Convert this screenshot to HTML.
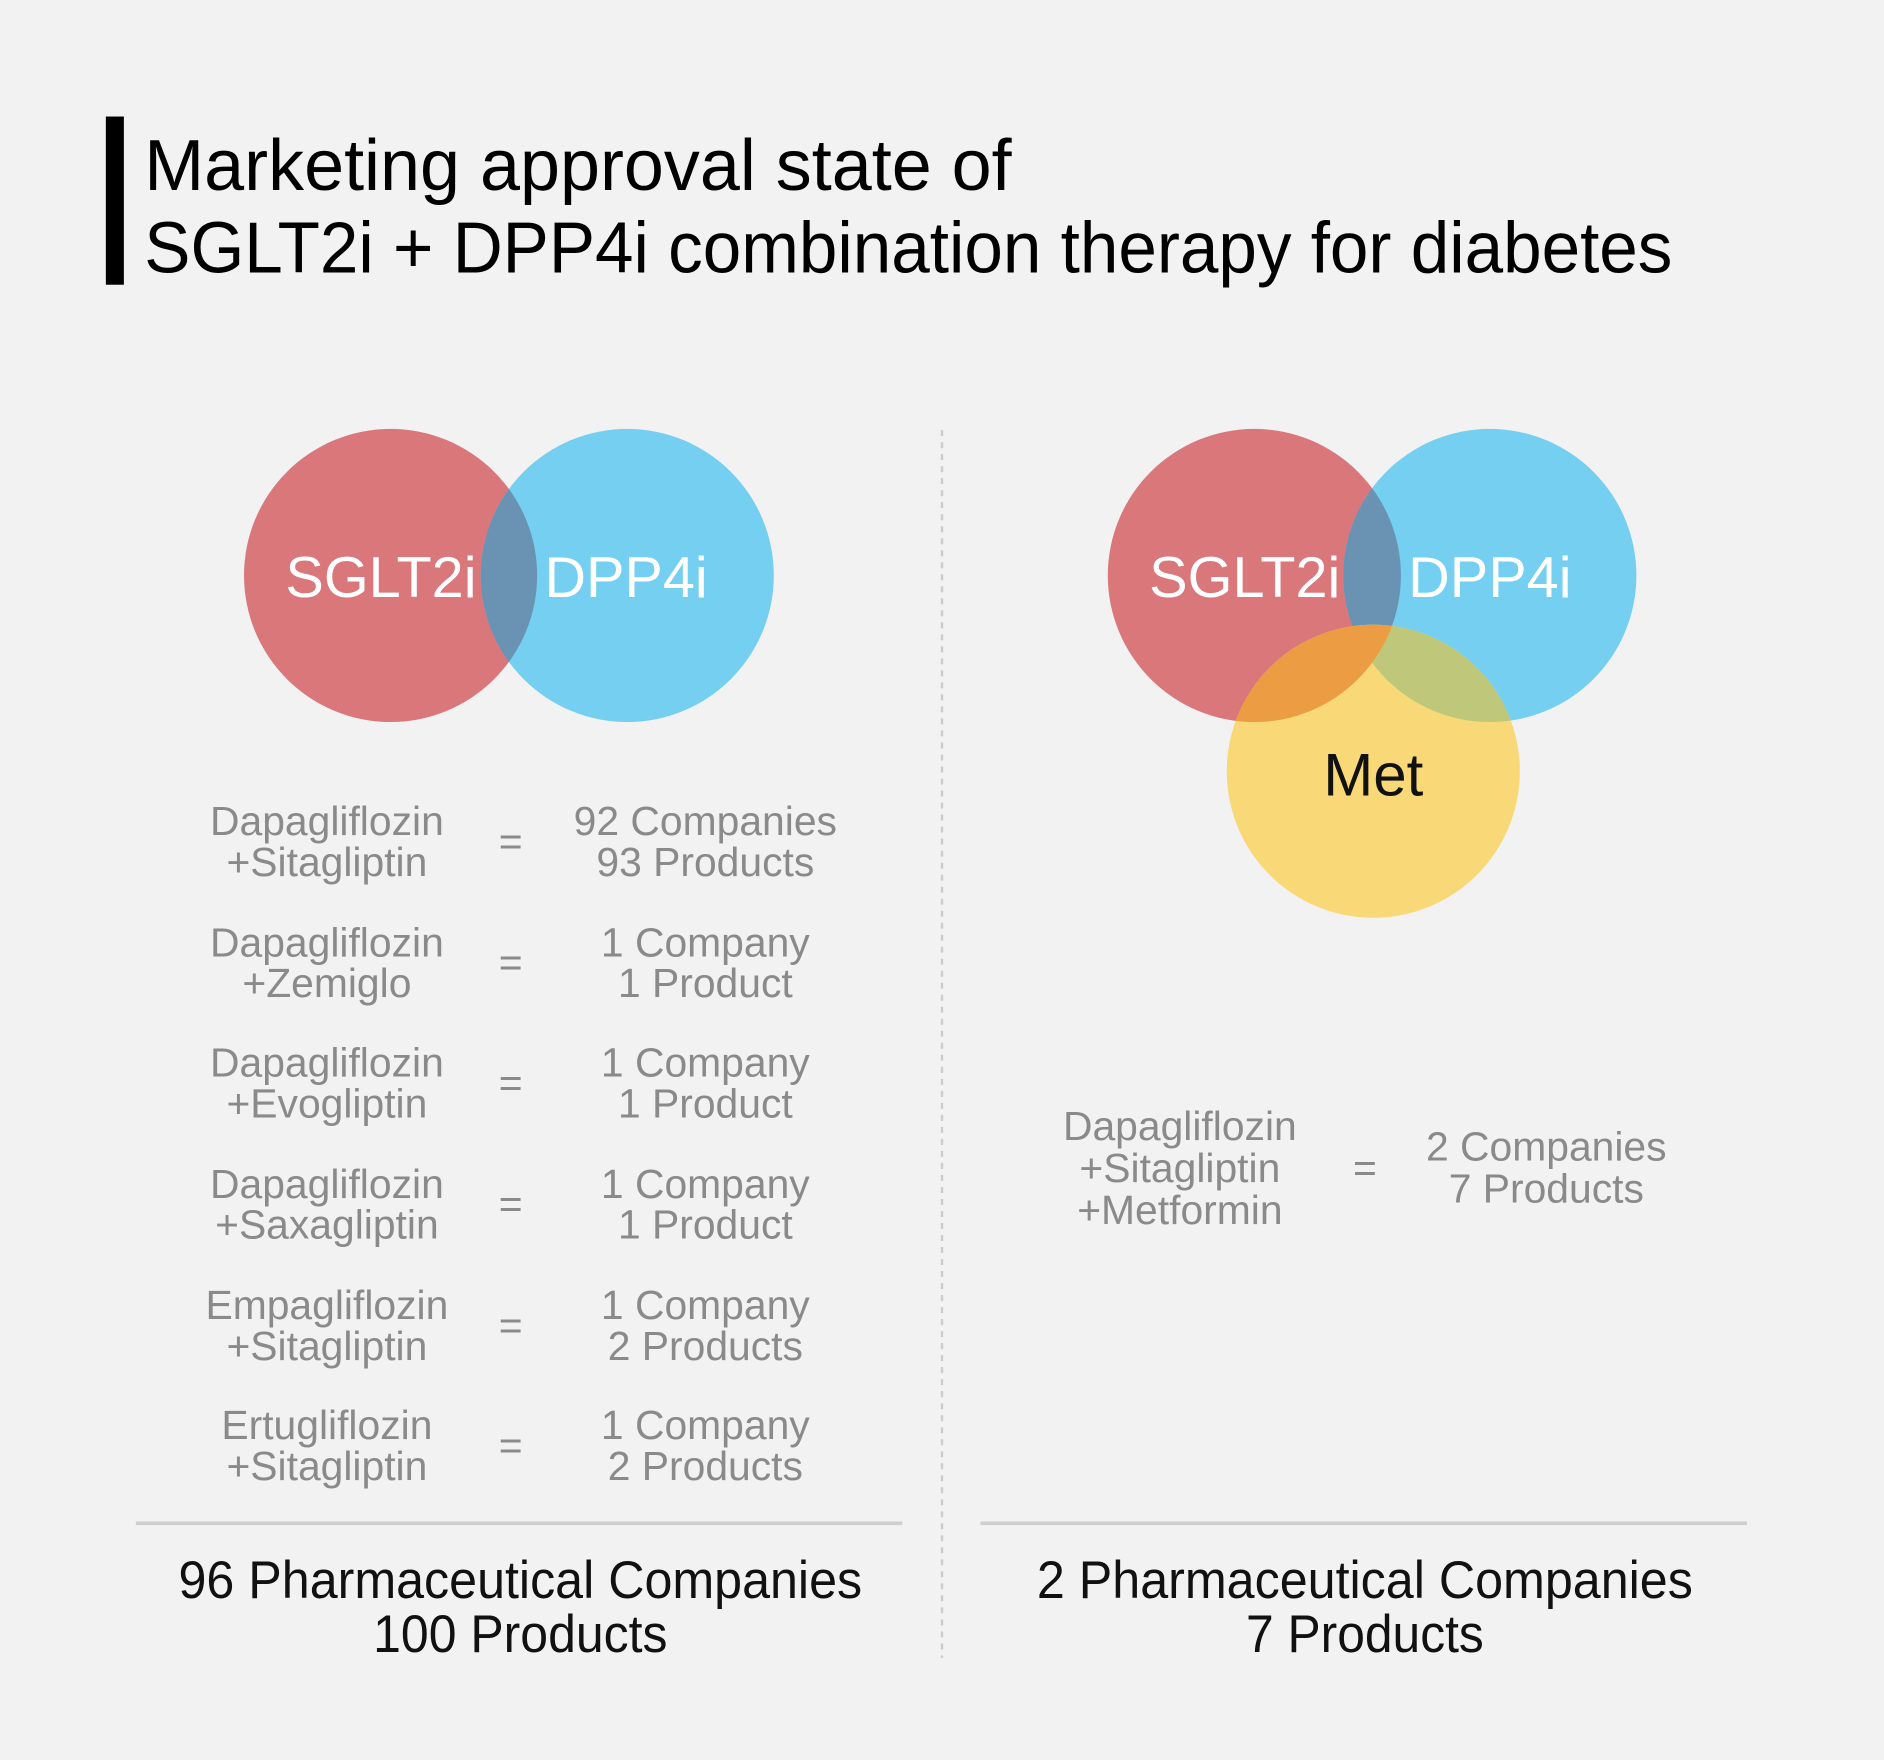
<!DOCTYPE html>
<html><head><meta charset="utf-8">
<style>
html,body{margin:0;padding:0;background:#f2f2f2;}
svg{display:block;}
text{font-family:"Liberation Sans",sans-serif;}
</style></head>
<body>
<svg width="1884" height="1760" viewBox="0 0 1568 1465" xmlns="http://www.w3.org/2000/svg">
<defs>
<clipPath id="lr"><circle cx="325" cy="479" r="122"/></clipPath>
<clipPath id="rr"><circle cx="1044" cy="479" r="122"/></clipPath>
<clipPath id="rb"><circle cx="1240" cy="479" r="122"/></clipPath>
</defs>
<rect width="1568" height="1465" fill="#f2f2f2"/>
<rect x="88" y="97" width="15" height="140" fill="#000"/>
<text x="120" y="158" font-size="60" textLength="722" lengthAdjust="spacingAndGlyphs" fill="#000">Marketing approval state of</text>
<text x="120" y="227" font-size="60" textLength="1272" lengthAdjust="spacingAndGlyphs" fill="#000">SGLT2i + DPP4i combination therapy for diabetes</text>

<circle cx="325" cy="479" r="122" fill="#d9777a"/>
<circle cx="522" cy="479" r="122" fill="#75cff0"/>
<circle cx="522" cy="479" r="122" fill="#6a93b3" clip-path="url(#lr)"/>
<g font-size="48" fill="#fff" text-anchor="middle">
<text x="317" y="497">SGLT2i</text>
<text x="521" y="497">DPP4i</text>
</g>

<circle cx="1044" cy="479" r="122" fill="#d9777a"/>
<circle cx="1240" cy="479" r="122" fill="#75cff0"/>
<circle cx="1240" cy="479" r="122" fill="#6a93b3" clip-path="url(#rr)"/>
<circle cx="1143" cy="642" r="122" fill="#f9d878"/>
<circle cx="1143" cy="642" r="122" fill="#bfc87a" clip-path="url(#rb)"/>
<circle cx="1143" cy="642" r="122" fill="#ec9c42" clip-path="url(#rr)"/>
<g font-size="48" fill="#fff" text-anchor="middle">
<text x="1036" y="497">SGLT2i</text>
<text x="1240" y="497">DPP4i</text>
</g>
<text x="1143" y="662" font-size="50" fill="#111" text-anchor="middle">Met</text>

<g font-size="34" fill="#8a8a8a" text-anchor="middle">
<text x="272" y="695">Dapagliflozin</text><text x="272" y="729">+Sitagliptin</text>
<text x="425" y="712">=</text>
<text x="587" y="695">92 Companies</text><text x="587" y="729">93 Products</text>

<text x="272" y="796">Dapagliflozin</text><text x="272" y="830">+Zemiglo</text>
<text x="425" y="813">=</text>
<text x="587" y="796">1 Company</text><text x="587" y="830">1 Product</text>

<text x="272" y="896">Dapagliflozin</text><text x="272" y="930">+Evogliptin</text>
<text x="425" y="913">=</text>
<text x="587" y="896">1 Company</text><text x="587" y="930">1 Product</text>

<text x="272" y="997">Dapagliflozin</text><text x="272" y="1031">+Saxagliptin</text>
<text x="425" y="1014">=</text>
<text x="587" y="997">1 Company</text><text x="587" y="1031">1 Product</text>

<text x="272" y="1098">Empagliflozin</text><text x="272" y="1132">+Sitagliptin</text>
<text x="425" y="1115">=</text>
<text x="587" y="1098">1 Company</text><text x="587" y="1132">2 Products</text>

<text x="272" y="1198">Ertugliflozin</text><text x="272" y="1232">+Sitagliptin</text>
<text x="425" y="1215">=</text>
<text x="587" y="1198">1 Company</text><text x="587" y="1232">2 Products</text>

<text x="982" y="949">Dapagliflozin</text>
<text x="982" y="984">+Sitagliptin</text>
<text x="982" y="1019">+Metformin</text>
<text x="1136" y="984">=</text>
<text x="1287" y="966">2 Companies</text>
<text x="1287" y="1001">7 Products</text>
</g>

<line x1="113" y1="1268" x2="751" y2="1268" stroke="#cfcfcf" stroke-width="3"/>
<line x1="816" y1="1268" x2="1454" y2="1268" stroke="#cfcfcf" stroke-width="3"/>
<line x1="784" y1="358" x2="784" y2="1380" stroke="#cccccc" stroke-width="2" stroke-dasharray="5,5"/>

<g font-size="44" fill="#111" text-anchor="middle">
<text x="433" y="1330" textLength="569" lengthAdjust="spacingAndGlyphs">96 Pharmaceutical Companies</text>
<text x="433" y="1375" textLength="245" lengthAdjust="spacingAndGlyphs">100 Products</text>
<text x="1136" y="1330" textLength="546" lengthAdjust="spacingAndGlyphs">2 Pharmaceutical Companies</text>
<text x="1136" y="1375" textLength="198" lengthAdjust="spacingAndGlyphs">7 Products</text>
</g>
</svg>
</body></html>
